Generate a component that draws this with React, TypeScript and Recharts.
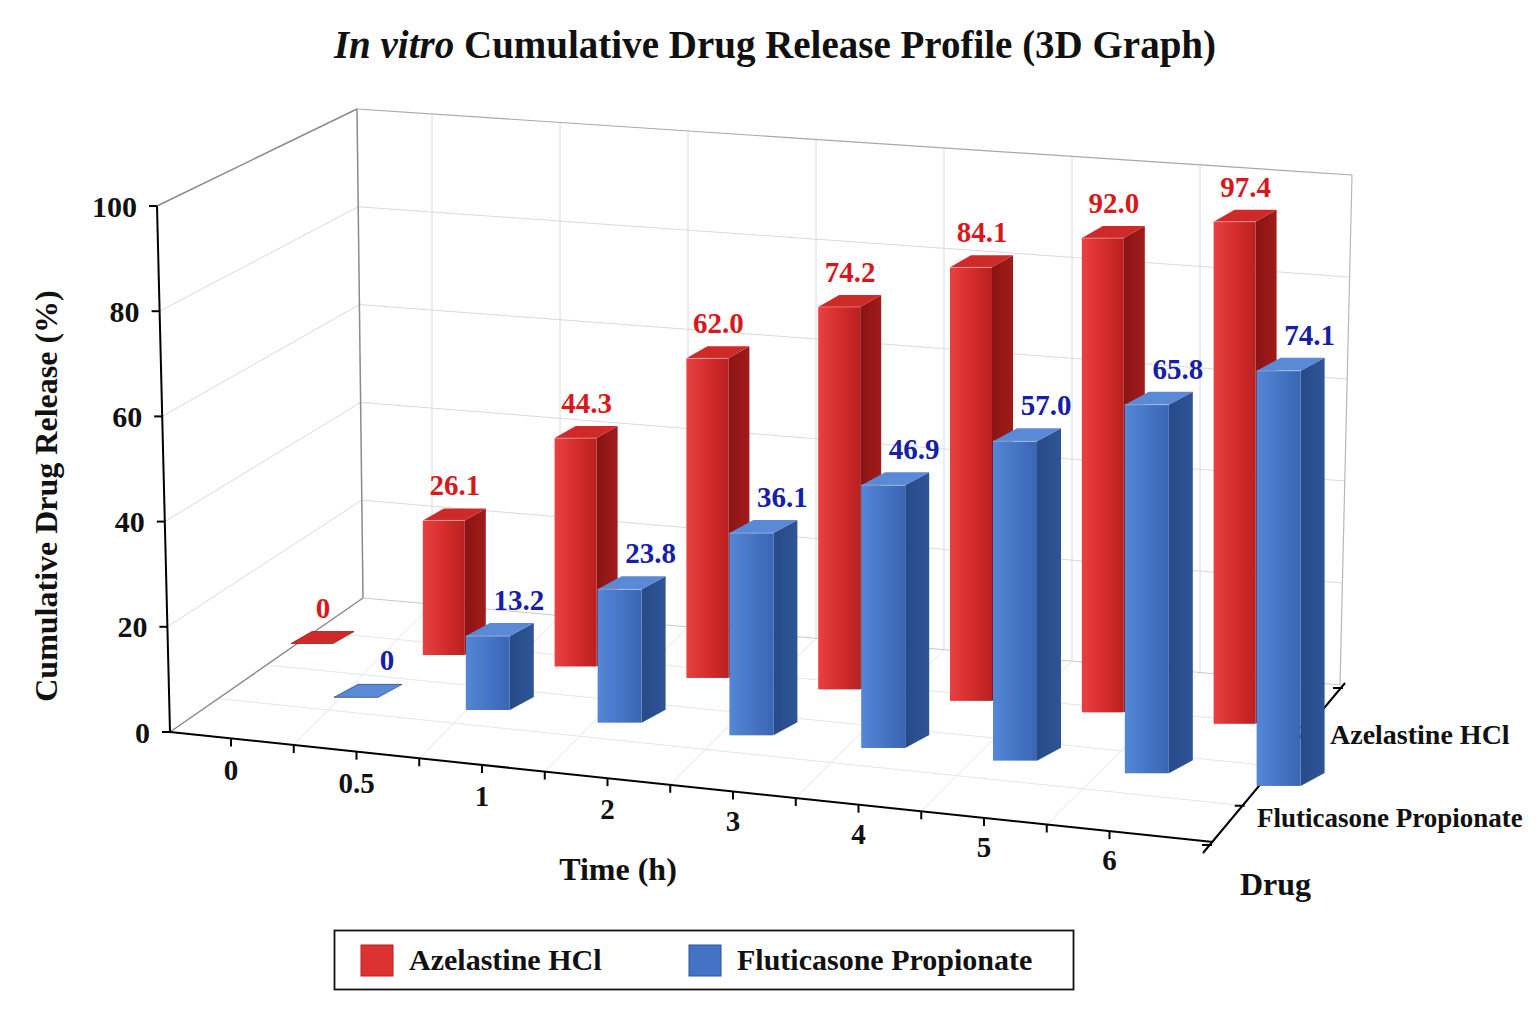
import React from 'react';
import { BarChart, Bar, XAxis, YAxis, LabelList } from 'recharts';

// dados
const TIMES = ['0', '0.5', '1', '2', '3', '4', '5', '6'];
const AZELASTINE = [0, 26.1, 44.3, 62.0, 74.2, 84.1, 92.0, 97.4];
const FLUTICASONE = [0, 13.2, 23.8, 36.1, 46.9, 57.0, 65.8, 74.1];
const Y_TICKS = [0, 20, 40, 60, 80, 100];
const DRUGS = ['Azelastine HCl', 'Fluticasone Propionate'];

const data = TIMES.map((t, i) => ({ time: t, aze: AZELASTINE[i], flu: FLUTICASONE[i] }));

const FONT = '"Liberation Serif", "Times New Roman", serif';
const W = 1536;
const H = 1024;
// área de plotagem "plana" que o recharts calcula; depois projetamos em pseudo-3D
const PL = 268;
const PT = 206;
const PH = 526;
const BAND = 131.8;
const PW = BAND * TIMES.length;
const Y_AXIS_W = 60;
const X_AXIS_H = 30;

// fileiras em profundidade (Azelastine atrás, Fluticasone na frente)
const ROWS: Record<string, any> = {
  aze: {
    x0: 422.7, y0: 655, slope: 0.087, k: 0.98, w: 42, d: [21, -12], lx: 32,
    front: 'url(#azeFront)', side: 'url(#azeSide)', top: '#cf2a2a', edge: '#9c1a1a', label: '#d7191c',
  },
  flu: {
    x0: 465.6, y0: 710, slope: 0.096, k: 1.065, w: 44, d: [24, -13], lx: 53,
    front: 'url(#fluFront)', side: 'url(#fluSide)', top: '#5a89d6', edge: '#2c4f8f', label: '#1520a6',
  },
};

// eixos "em perspectiva"
const axisX = (v: number) => 170 - 0.13 * v;
const axisY = (v: number) => 732 - 5.26 * v;
const backLX = (v: number) => 363 - 0.06 * v;
const backLY = (v: number) => 598 - 4.89 * v;
const backRX = (v: number) => 1340 + 0.12 * v;
const backRY = (v: number) => 685 - 5.1 * v;
const frontY = (px: number) => 732 + 0.1055 * (px - 170);
const floorBackY = (px: number) => 598 + (px - 363) * (87 / 977);
const wallTopY = (px: number) => 109 + (px - 357) * (66 / 995);

const boxGeom = (key: string, x: number, height: number) => {
  const r = ROWS[key];
  const bottom = r.y0 + r.slope * (x - r.x0);
  const top = bottom - Math.max(0, height) * r.k;
  return { bottom, top, w: r.w, dx: r.d[0], dy: r.d[1] };
};

const makeBox = (key: string) => (props: any) => {
  const { x, height } = props;
  const r = ROWS[key];
  const { bottom, top, w, dx, dy } = boxGeom(key, x, height);
  if (bottom - top < 2) {
    return (
      <polygon
        points={`${x},${bottom} ${x + w},${bottom} ${x + w + dx},${bottom + dy} ${x + dx},${bottom + dy}`}
        fill={r.top}
        stroke={r.edge}
        strokeWidth={0.8}
      />
    );
  }
  return (
    <g>
      <polygon
        points={`${x + w},${top} ${x + w + dx},${top + dy} ${x + w + dx},${bottom + dy} ${x + w},${bottom}`}
        fill={r.side}
      />
      <rect x={x} y={top} width={w} height={bottom - top} fill={r.front} />
      <polygon
        points={`${x},${top} ${x + w},${top} ${x + w + dx},${top + dy} ${x + dx},${top + dy}`}
        fill={r.top}
      />
      <line x1={x} y1={top} x2={x + w} y2={top} stroke="rgba(255,255,255,0.35)" strokeWidth={1} />
    </g>
  );
};

const fmt = (v: number) => (v === 0 ? '0' : v.toFixed(1));

const makeLabel = (key: string) => (props: any) => {
  const vb = props.viewBox || props;
  const x = vb.x ?? props.x;
  const height = vb.height ?? props.height;
  const r = ROWS[key];
  const { top, dy } = boxGeom(key, x, height);
  return (
    <text
      x={x + r.lx}
      y={top + dy - 13}
      textAnchor="middle"
      fill={r.label}
      fontFamily={FONT}
      fontWeight="bold"
      fontSize={29}
    >
      {fmt(Number(props.value))}
    </text>
  );
};

const XTick = (props: any) => {
  const { x, payload } = props;
  const i = (x - PL) / BAND - 0.5;
  const lx = 231 + 125.5 * i;
  const ly = 770 + 12.8 * i;
  const mx = lx + 62.75;
  return (
    <g>
      <line x1={lx} y1={frontY(lx)} x2={lx} y2={frontY(lx) + 8} stroke="#000" strokeWidth={2} />
      {i < TIMES.length - 1.5 && (
        <line x1={mx} y1={frontY(mx)} x2={mx} y2={frontY(mx) + 8} stroke="#000" strokeWidth={2} />
      )}
      <text x={lx} y={ly} dy="0.35em" textAnchor="middle" fontFamily={FONT} fontWeight="bold" fontSize={29} fill="#111">
        {payload.value}
      </text>
    </g>
  );
};

const YTick = (props: any) => {
  const { y, payload } = props;
  const ax = axisX(payload.value);
  return (
    <g>
      <line x1={ax - 8} y1={y} x2={ax} y2={y} stroke="#000" strokeWidth={2} />
      <text x={ax - 20} y={y} dy="0.35em" textAnchor="end" fontFamily={FONT} fontWeight="bold" fontSize={30} fill="#111">
        {payload.value}
      </text>
    </g>
  );
};

// paredes, chão, grade e textos fixos
const Frame = () => {
  const grid = '#dadada';
  const edge = '#8a8a8a';
  const inner = Y_TICKS.filter((v) => v > 0 && v < 100);
  const backCols = [0, 1, 2, 3, 4, 5, 6].map((k) => 432 + 128 * k);
  const frontMids = [0, 1, 2, 3, 4, 5, 6].map((k) => 231 + 125.5 * k + 62.75);
  const depthS = [0.25, 0.5, 0.75];
  return (
    <svg width={W} height={H} style={{ position: 'absolute', left: 0, top: 0 }}>
      <rect width={W} height={H} fill="#fff" />
      <text x={775} y={58} textAnchor="middle" fontFamily={FONT} fontWeight="bold" fontSize={39} fill="#111">
        <tspan fontStyle="italic">In vitro</tspan>
        {' Cumulative Drug Release Profile (3D Graph)'}
      </text>

      {/* grade da parede esquerda e do fundo */}
      {inner.map((v) => (
        <g key={`g${v}`}>
          <line x1={axisX(v)} y1={axisY(v)} x2={backLX(v)} y2={backLY(v)} stroke={grid} strokeWidth={1} />
          <line x1={backLX(v)} y1={backLY(v)} x2={backRX(v)} y2={backRY(v)} stroke={grid} strokeWidth={1} />
        </g>
      ))}
      {backCols.map((bx) => (
        <line key={`bc${bx}`} x1={bx} y1={wallTopY(bx)} x2={bx} y2={floorBackY(bx)} stroke={grid} strokeWidth={1} />
      ))}
      {/* grade do chão */}
      {frontMids.map((fx, k) => (
        <line key={`fm${k}`} x1={fx} y1={frontY(fx)} x2={backCols[k]} y2={floorBackY(backCols[k])} stroke="#e6e6e6" strokeWidth={1} />
      ))}
      {depthS.map((s) => (
        <line
          key={`ds${s}`}
          x1={170 + 193 * s}
          y1={732 - 134 * s}
          x2={1212 + 131 * s}
          y2={845 - 157 * s}
          stroke="#e6e6e6"
          strokeWidth={1}
        />
      ))}

      {/* arestas */}
      <line x1={axisX(100)} y1={axisY(100)} x2={backLX(100)} y2={backLY(100)} stroke={edge} strokeWidth={1.5} />
      <line x1={backLX(100)} y1={backLY(100)} x2={backLX(0)} y2={backLY(0)} stroke={edge} strokeWidth={1.5} />
      <line x1={backLX(100)} y1={backLY(100)} x2={backRX(100)} y2={backRY(100)} stroke="#a8a8a8" strokeWidth={1.2} />
      <line x1={backRX(100)} y1={backRY(100)} x2={backRX(0)} y2={backRY(0)} stroke="#b8b8b8" strokeWidth={1.2} />
      <line x1={axisX(0)} y1={axisY(0)} x2={backLX(0)} y2={backLY(0)} stroke={edge} strokeWidth={1.5} />
      <line x1={backLX(0)} y1={backLY(0)} x2={backRX(0)} y2={backRY(0)} stroke="#c8c8c8" strokeWidth={1} />

      {/* eixos pretos */}
      <line x1={axisX(0)} y1={axisY(0)} x2={axisX(100)} y2={axisY(100)} stroke="#000" strokeWidth={2} />
      <line x1={170} y1={732} x2={1213} y2={frontY(1213)} stroke="#000" strokeWidth={2} />
      <line x1={1203} y1={853} x2={1345} y2={683} stroke="#000" strokeWidth={2} />
      {[0, 1, 2, 3, 4].map((k) => {
        const px = 1212 + 32.75 * k;
        const py = 845 - 39.25 * k;
        return <line key={`dt${k}`} x1={px - 10} y1={py} x2={px} y2={py} stroke="#000" strokeWidth={2} />;
      })}

      <text x={1330} y={744} fontFamily={FONT} fontWeight="bold" fontSize={28} fill="#111">{DRUGS[0]}</text>
      <text x={1257} y={827} fontFamily={FONT} fontWeight="bold" fontSize={27} fill="#111">{DRUGS[1]}</text>
      <text x={1240} y={895} fontFamily={FONT} fontWeight="bold" fontSize={32} fill="#111">Drug</text>
      <text x={618} y={880} textAnchor="middle" fontFamily={FONT} fontWeight="bold" fontSize={32} fill="#111">Time (h)</text>
      <text
        x={0}
        y={0}
        transform="translate(57, 496) rotate(-90)"
        textAnchor="middle"
        fontFamily={FONT}
        fontWeight="bold"
        fontSize={32}
        fill="#111"
      >
        Cumulative Drug Release (%)
      </text>

      {/* legenda */}
      <rect x={334.5} y={930.5} width={739} height={59} fill="#fff" stroke="#111" strokeWidth={1.8} />
      <rect x={361} y={945} width={32} height={31} fill="#dd3232" stroke="#b52020" strokeWidth={1} />
      <text x={409} y={970} fontFamily={FONT} fontWeight="bold" fontSize={30} fill="#111">{DRUGS[0]}</text>
      <rect x={689} y={945} width={32} height={31} fill="#4472c4" stroke="#2f5597" strokeWidth={1} />
      <text x={737} y={970} fontFamily={FONT} fontWeight="bold" fontSize={30} fill="#111">{DRUGS[1]}</text>
    </svg>
  );
};

export default function App() {
  return (
    <div style={{ position: 'absolute', left: 0, top: 0, width: W, height: H, background: '#fff' }}>
      <Frame />
      <div style={{ position: 'absolute', left: 0, top: 0 }}>
        <BarChart
          width={W}
          height={H}
          data={data}
          barGap={0}
          margin={{ top: PT, left: PL - Y_AXIS_W, right: W - PL - PW, bottom: H - PT - PH - X_AXIS_H }}
        >
          <defs>
            <linearGradient id="azeFront" x1="0" y1="0" x2="1" y2="0">
              <stop offset="0%" stopColor="#e84141" />
              <stop offset="55%" stopColor="#d42b2b" />
              <stop offset="100%" stopColor="#b92020" />
            </linearGradient>
            <linearGradient id="azeSide" x1="0" y1="0" x2="1" y2="0">
              <stop offset="0%" stopColor="#8a1414" />
              <stop offset="100%" stopColor="#a21b1b" />
            </linearGradient>
            <linearGradient id="fluFront" x1="0" y1="0" x2="1" y2="0">
              <stop offset="0%" stopColor="#5587d6" />
              <stop offset="55%" stopColor="#4574c4" />
              <stop offset="100%" stopColor="#3a66b2" />
            </linearGradient>
            <linearGradient id="fluSide" x1="0" y1="0" x2="1" y2="0">
              <stop offset="0%" stopColor="#274a88" />
              <stop offset="100%" stopColor="#2f5597" />
            </linearGradient>
          </defs>
          <XAxis
            dataKey="time"
            interval={0}
            height={X_AXIS_H}
            axisLine={false}
            tickLine={false}
            tick={<XTick />}
          />
          <YAxis
            domain={[0, 100]}
            ticks={Y_TICKS}
            width={Y_AXIS_W}
            axisLine={false}
            tickLine={false}
            tick={<YTick />}
          />
          <Bar dataKey="aze" name={DRUGS[0]} barSize={43} minPointSize={1} shape={makeBox('aze')} isAnimationActive={false}>
            <LabelList dataKey="aze" content={makeLabel('aze')} />
          </Bar>
          <Bar dataKey="flu" name={DRUGS[1]} barSize={43} minPointSize={1} shape={makeBox('flu')} isAnimationActive={false}>
            <LabelList dataKey="flu" content={makeLabel('flu')} />
          </Bar>
        </BarChart>
      </div>
    </div>
  );
}
